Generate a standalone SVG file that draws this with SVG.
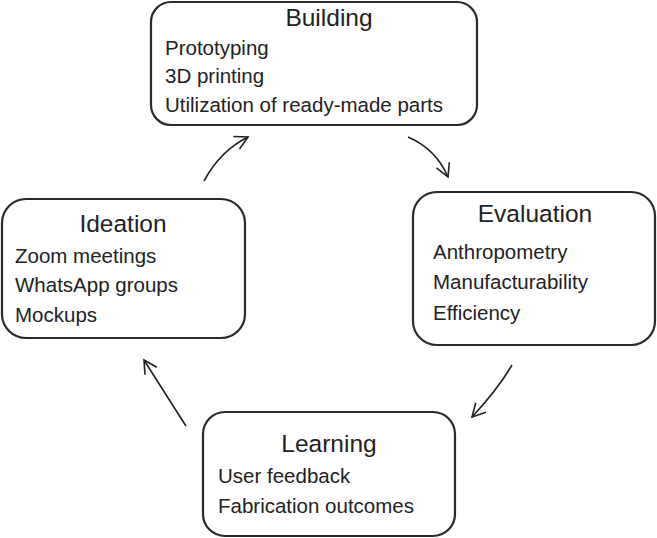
<svg xmlns="http://www.w3.org/2000/svg" width="657" height="538" viewBox="0 0 657 538">
<style>
.box{fill:#fff;stroke:#2a2a2a;stroke-width:2.2}
.title{font-family:"Liberation Sans",Arial,sans-serif;font-size:24.5px;fill:#222;text-anchor:middle}
.item{font-family:"Liberation Sans",Arial,sans-serif;font-size:20.5px;fill:#222}
.conn{fill:none;stroke:#222;stroke-width:1.6;marker-end:url(#ah)}
</style>
<defs>
<marker id="ah" markerUnits="userSpaceOnUse" markerWidth="20" markerHeight="20" refX="0" refY="0" viewBox="-14 -10 16 20" orient="auto">
<path d="M-13,-7 L0,0 L-13,7" fill="none" stroke="#222" stroke-width="1.6"/>
</marker>
</defs>
<rect width="657" height="538" fill="#fff"/>
<g id="connectors">
<path class="conn" d="M204,181 Q220,151 248,137"/>
<path class="conn" d="M408,137 Q436,149 448,177"/>
<path class="conn" d="M512,365 Q498,389 472,417"/>
<path class="conn" d="M186,426 Q161,387 144,360"/>
</g>
<g id="building">
<rect class="box" x="151" y="2" width="326" height="123" rx="20"/>
<text class="title" x="329" y="26">Building</text>
<text class="item" x="165" y="55">Prototyping</text>
<text class="item" x="165" y="83">3D printing</text>
<text class="item" x="165" y="112">Utilization of ready-made parts</text>
</g>
<g id="ideation">
<rect class="box" x="2" y="199" width="243" height="139" rx="24"/>
<text class="title" x="123" y="232">Ideation</text>
<text class="item" x="15" y="263">Zoom meetings</text>
<text class="item" x="15" y="292">WhatsApp groups</text>
<text class="item" x="15" y="322">Mockups</text>
</g>
<g id="evaluation">
<rect class="box" x="413" y="192" width="242" height="153" rx="24"/>
<text class="title" x="535" y="222">Evaluation</text>
<text class="item" x="433" y="259">Anthropometry</text>
<text class="item" x="433" y="289">Manufacturability</text>
<text class="item" x="433" y="320">Efficiency</text>
</g>
<g id="learning">
<rect class="box" x="203" y="412" width="252" height="124" rx="22"/>
<text class="title" x="329" y="452">Learning</text>
<text class="item" x="218" y="483">User feedback</text>
<text class="item" x="218" y="513">Fabrication outcomes</text>
</g>
</svg>
